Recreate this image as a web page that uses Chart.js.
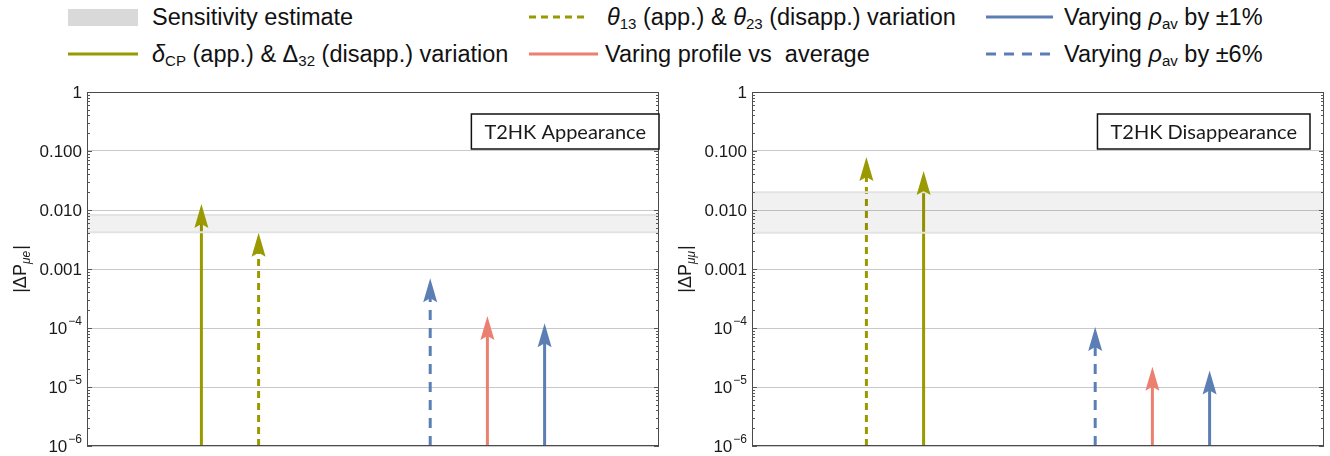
<!DOCTYPE html>
<html>
<head>
<meta charset="utf-8">
<script src="https://cdn.jsdelivr.net/npm/chart.js@4.4.0/dist/chart.umd.min.js"></script>
<style>
  body { margin: 0; width: 1330px; height: 456px; position: relative; background: #fff; overflow: hidden;
         font-family: "Liberation Sans", Arial, sans-serif; }
  .lt { position: absolute; font-size: 23.5px; line-height: 26px; color: #111; white-space: nowrap; }
  .lt sub { font-size: 0.64em; vertical-align: -0.25em; line-height: 0; }
  .sw { position: absolute; }
  canvas { position: absolute; }
</style>
</head>
<body>

<!-- legend -->
<div class="sw" style="left:68px;top:9px;width:70px;height:17px;background:#d9d9d9"></div>
<div class="lt" style="left:152px;top:4px">Sensitivity estimate</div>

<svg class="sw" style="left:529px;top:15px" width="56" height="4"><line x1="0" y1="2" x2="56" y2="2" stroke="#9a9a00" stroke-width="3" stroke-dasharray="7,5"/></svg>
<div class="lt" style="left:607px;top:4px"><i>θ</i><sub>13</sub> (app.) &amp; <i>θ</i><sub>23</sub> (disapp.) variation</div>

<svg class="sw" style="left:986px;top:15px" width="67" height="4"><line x1="0" y1="2" x2="67" y2="2" stroke="#5b7fb5" stroke-width="3"/></svg>
<div class="lt" style="left:1064px;top:4px">Varying <i>ρ</i><sub>av</sub> by ±1%</div>

<svg class="sw" style="left:68px;top:52px" width="70" height="4"><line x1="0" y1="2" x2="70" y2="2" stroke="#9a9a00" stroke-width="3"/></svg>
<div class="lt" style="left:152px;top:41px"><i>δ</i><sub>CP</sub> (app.) &amp; Δ<sub>32</sub> (disapp.) variation</div>

<svg class="sw" style="left:529px;top:52px" width="69" height="4"><line x1="0" y1="2" x2="69" y2="2" stroke="#ec8070" stroke-width="3"/></svg>
<div class="lt" style="left:605px;top:41px">Varing profile vs&nbsp; average</div>

<svg class="sw" style="left:986px;top:52px" width="67" height="4"><line x1="0" y1="2" x2="67" y2="2" stroke="#5b7fb5" stroke-width="3" stroke-dasharray="10,8"/></svg>
<div class="lt" style="left:1064px;top:41px">Varying <i>ρ</i><sub>av</sub> by ±6%</div>

<canvas id="appChart" width="670" height="396" style="left:0;top:60px"></canvas>
<canvas id="disChart" width="665" height="396" style="left:665px;top:60px"></canvas>

<script>
// ---------------- data ----------------
const categories = ['dCP / D32', 'theta13 / theta23', 'rho_av +-6%', 'profile vs average', 'rho_av +-1%'];
const appX = [2, 3, 6, 7, 8];
const appValues = [0.0126, 0.0041, 0.0007, 0.00016, 0.00012];
const disX = [3, 2, 6, 7, 8];
const disValues = [0.046, 0.079, 0.000104, 0.000022, 0.000019];
const appBand = [0.0042, 0.0082];
const disBand = [0.0041, 0.020];
const xRange = [0, 10];
const yTicks = [1e-6, 1e-5, 1e-4, 1e-3, 1e-2, 1e-1, 1];
const yTickBase = ['10', '10', '10', '0.001', '0.010', '0.100', '1'];
const yTickExp = ['−6', '−5', '−4', '', '', '', ''];

// ---------------- styles ----------------
const olive = '#9a9a00', blue = '#5b7fb5', salmon = '#ec8070';
const arrowColors = [olive, olive, blue, salmon, blue];
const arrowDash = [[], [7, 5], [10, 8], [], []];
const labelFont = '"Liberation Sans", Arial, sans-serif';

// arrows, frame, ticks, labels, title box
const panelDecor = {
  id: 'panelDecor',
  // keep the shaft from poking through the arrow tip
  beforeDatasetDraw(chart, args) {
    const ds = chart.data.datasets[args.index];
    if (!ds.arrow) return;
    const tip = args.meta.data[1];
    chart.ctx.save();
    chart.ctx.beginPath();
    chart.ctx.rect(0, tip.y + 16, chart.width, chart.height);
    chart.ctx.clip();
  },
  afterDatasetDraw(chart, args) {
    if (chart.data.datasets[args.index].arrow) chart.ctx.restore();
  },
  afterDatasetsDraw(chart) {
    const ctx = chart.ctx;
    chart.data.datasets.forEach((ds, i) => {
      if (!ds.arrow) return;
      const tip = chart.getDatasetMeta(i).data[1];
      ctx.save();
      ctx.fillStyle = ds.borderColor;
      ctx.beginPath();
      ctx.moveTo(tip.x, tip.y);
      ctx.lineTo(tip.x - 7, tip.y + 24);
      ctx.lineTo(tip.x, tip.y + 20);
      ctx.lineTo(tip.x + 7, tip.y + 24);
      ctx.closePath();
      ctx.fill();
      ctx.restore();
    });
  },
  afterDraw(chart, args, opts) {
    const ctx = chart.ctx;
    const a = chart.chartArea;
    const y = chart.scales.y;
    ctx.save();

    // frame
    ctx.strokeStyle = '#4a4a4a';
    ctx.lineWidth = 1;
    ctx.strokeRect(Math.round(a.left) + 0.5, Math.round(a.top) + 0.5,
                   Math.round(a.right - a.left) - 1, Math.round(a.bottom - a.top) - 1);

    // inward ticks on left and right
    ctx.strokeStyle = '#555';
    ctx.beginPath();
    for (let k = 0; k < yTicks.length - 1; k++) {
      for (let m = 1; m <= 9; m++) {
        const py = Math.round(y.getPixelForValue(yTicks[k] * m)) + 0.5;
        const len = m === 1 ? 5 : 3;
        ctx.moveTo(a.left, py); ctx.lineTo(a.left + len, py);
        ctx.moveTo(a.right, py); ctx.lineTo(a.right - len, py);
      }
    }
    ctx.stroke();

    // tick labels
    ctx.fillStyle = '#1a1a1a';
    ctx.textBaseline = 'middle';
    yTicks.forEach((v, i) => {
      const py = y.getPixelForValue(v);
      let x = a.left - 5;
      if (yTickExp[i]) {
        ctx.font = '12px ' + labelFont;
        ctx.textAlign = 'right';
        ctx.fillText(yTickExp[i], x, py - 6);
        x -= ctx.measureText(yTickExp[i]).width + 1;
      }
      ctx.font = '17px ' + labelFont;
      ctx.textAlign = 'right';
      ctx.fillText(yTickBase[i], x, py + 1);
    });

    // y axis title  |ΔP_sub|
    const cy = (a.top + a.bottom) / 2;
    ctx.translate(opts.titleX, cy);
    ctx.rotate(-Math.PI / 2);
    ctx.textAlign = 'left';
    ctx.textBaseline = 'alphabetic';
    const p1 = '|ΔP', p3 = '|';
    ctx.font = 'italic 12px ' + labelFont;
    const subW = ctx.measureText(opts.sub).width;
    ctx.font = '18px ' + labelFont;
    const w1 = ctx.measureText(p1).width, w3 = ctx.measureText(p3).width;
    const total = w1 + subW + 1 + w3;
    let tx = -total / 2;
    ctx.fillText(p1, tx, 6);
    tx += w1;
    ctx.font = 'italic 12px ' + labelFont;
    ctx.fillText(opts.sub, tx, 10);
    tx += subW + 1;
    ctx.font = '18px ' + labelFont;
    ctx.fillText(p3, tx, 6);
    ctx.setTransform(1, 0, 0, 1, 0, 0);

    // title box
    ctx.font = '20px Lato, sans-serif';
    const tw = ctx.measureText(opts.title).width;
    const bw = tw + 26, bh = 35;
    const bx = a.right - opts.boxInset - bw, by = a.top + 22;
    ctx.fillStyle = '#fff';
    ctx.fillRect(bx, by, bw, bh);
    ctx.strokeStyle = '#111';
    ctx.lineWidth = 1.5;
    ctx.strokeRect(bx, by, bw, bh);
    ctx.fillStyle = '#1a1a1a';
    ctx.textAlign = 'center';
    ctx.textBaseline = 'middle';
    ctx.fillText(opts.title, bx + bw / 2, by + bh / 2 + 1);
    ctx.restore();
  }
};

function makePanel(id, xs, values, band, title, sub, rightPad, boxInset) {
  const datasets = [
    { data: xRange.map(x => ({ x: x, y: band[0] })), borderColor: '#e3e3e3', borderWidth: 2,
      pointRadius: 0, fill: false },
    { data: xRange.map(x => ({ x: x, y: band[1] })), borderColor: '#e3e3e3', borderWidth: 2,
      pointRadius: 0, fill: '-1', backgroundColor: 'rgba(0,0,0,0.055)' }
  ];
  xs.forEach((x, i) => {
    datasets.push({
      label: categories[i],
      data: [{ x: x, y: yTicks[0] }, { x: x, y: values[i] }],
      borderColor: arrowColors[i], borderWidth: 3, borderDash: arrowDash[i],
      borderCapStyle: 'butt', pointRadius: 0, fill: false, arrow: true
    });
  });

  return new Chart(document.getElementById(id), {
    type: 'line',
    data: { datasets: datasets },
    options: {
      responsive: false,
      animation: false,
      devicePixelRatio: 1,
      layout: { padding: { left: 0, top: 32, right: rightPad, bottom: 10 } },
      plugins: {
        legend: { display: false },
        tooltip: { enabled: false },
        panelDecor: { title: title, sub: sub, titleX: 20, boxInset: boxInset }
      },
      scales: {
        x: { type: 'linear', min: xRange[0], max: xRange[1], display: false },
        y: {
          type: 'logarithmic', min: yTicks[0], max: yTicks[yTicks.length - 1],
          afterBuildTicks: s => { s.ticks = yTicks.map(v => ({ value: v })); },
          afterFit: s => { s.width = 87; },
          ticks: { display: false },
          grid: { color: '#c9c9c9', lineWidth: 1, drawTicks: false },
          border: { display: false }
        }
      }
    },
    plugins: [panelDecor]
  });
}

makePanel('appChart', appX, appValues, appBand, 'T2HK Appearance', 'μe', 11, 0);
makePanel('disChart', disX, disValues, disBand, 'T2HK Disappearance', 'μμ', 6, 14);
</script>
</body>
</html>
